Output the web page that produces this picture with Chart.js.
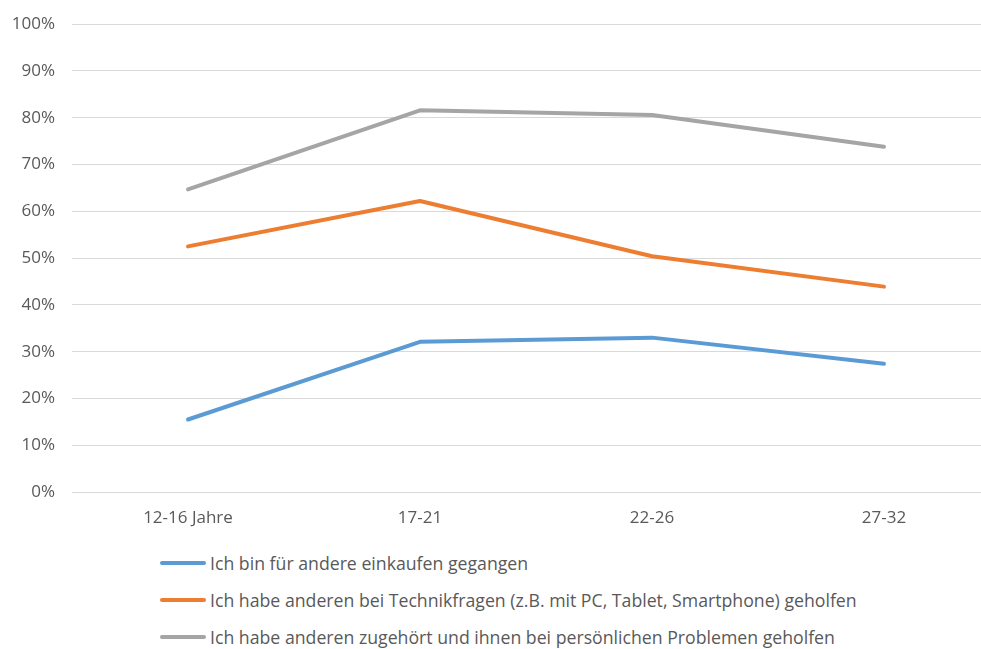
<!DOCTYPE html>
<html>
<head>
<meta charset="utf-8">
<script src="https://cdn.jsdelivr.net/npm/chart.js@4.4.1/dist/chart.umd.min.js"></script>
<style>
  html, body { margin: 0; padding: 0; background: #fff; overflow: hidden; }
  #wrap { position: relative; width: 1000px; height: 543px; margin-top: -3px; }
  #legend { margin: 4px 0 0 160px; font-family: "Open Sans", sans-serif; font-size: 17.7px; color: #595959; }
  #legend div { height: 37px; display: flex; align-items: center; white-space: nowrap; }
  #legend span.line { display: inline-block; width: 46px; height: 4px; border-radius: 2px; margin-right: 4px; }
</style>
</head>
<body>
<div id="wrap"><canvas id="myChart"></canvas></div>
<div id="legend"></div>
<script>
const categories = ["12-16 Jahre", "17-21", "22-26", "27-32"];
const seriesNames = [
  "Ich bin für andere einkaufen gegangen",
  "Ich habe anderen bei Technikfragen (z.B. mit PC, Tablet, Smartphone) geholfen",
  "Ich habe anderen zugehört und ihnen bei persönlichen Problemen geholfen"
];
const einkaufen = [15.5, 32.1, 33.0, 27.4];
const technik = [52.5, 62.2, 50.4, 43.9];
const zugehoert = [64.7, 81.6, 80.6, 73.8];
const colors = ["#5B9BD5", "#ED7D31", "#A5A5A5"];

const allSeries = [einkaufen, technik, zugehoert];

const ctx = document.getElementById("myChart").getContext("2d");
const myChart = new Chart(ctx, {
  type: "line",
  data: {
    labels: categories,
    datasets: allSeries.map((vals, i) => ({
      label: seriesNames[i],
      data: vals,
      borderColor: colors[i],
      backgroundColor: colors[i],
      borderWidth: 4,
      borderCapStyle: "round",
      borderJoinStyle: "round",
      pointRadius: 0,
      tension: 0,
    })),
  },
  options: {
    responsive: true,
    maintainAspectRatio: false,
    animation: false,
    layout: { autoPadding: false, padding: { top: 22, right: 0, left: 0, bottom: 0 } },
    plugins: {
      legend: { display: false },
      tooltip: { enabled: false },
    },
    scales: {
      x: {
        offset: true,
        grid: { display: false, drawTicks: false },
        border: { display: false },
        ticks: { color: "#595959", font: { family: "Open Sans", size: 17 }, padding: 16 },
        afterFit: (s) => { s.height = 48; },
      },
      y: {
        min: 0,
        max: 100,
        ticks: {
          stepSize: 10,
          color: "#595959",
          font: { family: "Open Sans", size: 17 },
          padding: 17,
          callback: (v) => v + "%",
        },
        grid: { color: "#D9D9D9", lineWidth: 1, drawTicks: false },
        border: { display: false },
        afterFit: (s) => { s.width = 72; },
      },
    },
  },
});

// Legende unter dem Diagramm
const legend = document.getElementById("legend");
myChart.data.datasets.forEach((ds) => {
  const row = document.createElement("div");
  row.innerHTML = `<span class="line" style="background:${ds.borderColor}"></span>${ds.label}`;
  legend.appendChild(row);
});
</script>
</body>
</html>
